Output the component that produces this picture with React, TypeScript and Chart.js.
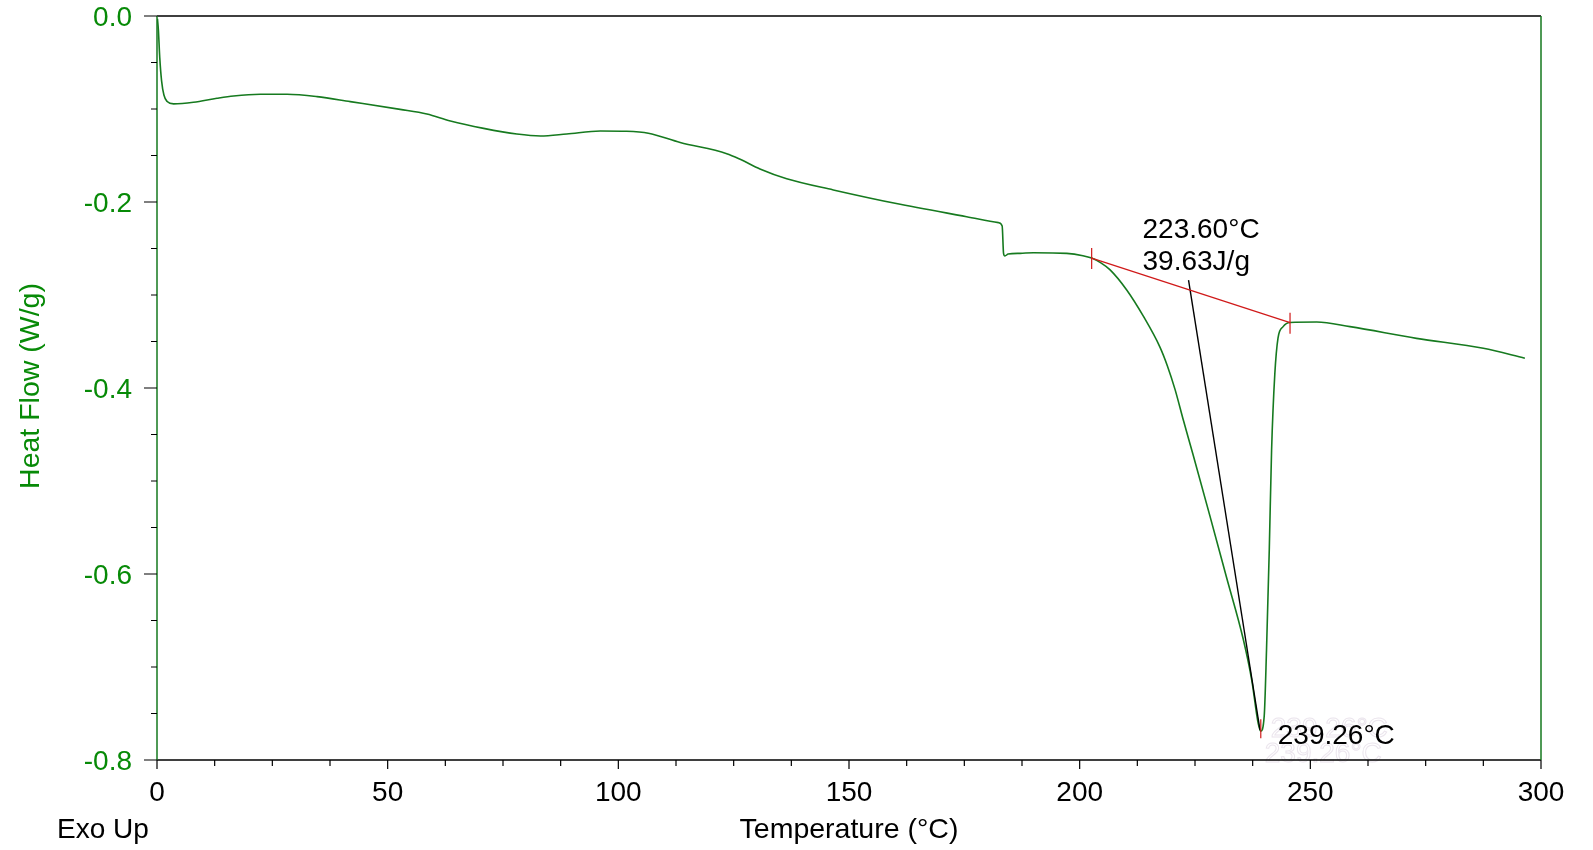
import React, { useEffect, useRef } from 'react';
import { Chart, registerables } from 'chart.js';

Chart.register(...registerables);

// ---- Data ----
const temperature = [
  0.1, 0.3, 0.6, 1.0, 1.5, 2.2, 3.6, 7.9, 13.0, 16.6, 22.4, 28.2, 34.7, 41.9, 52.7, 58.5, 63.6, 70.8, 78.0, 83.1,
  88.8, 96.1, 101.8, 106.5, 113.4, 123.5, 126.4, 130.7, 136.5, 146.6, 161.1, 175.5, 182.4, 183.2, 183.5, 183.8,
  184.5, 187.1, 190.0, 197.2, 200.7, 202.6, 204.6, 206.6, 210.2, 213.8, 217.4, 219.0, 220.7, 222.5, 224.6, 228.2,
  231.8, 235.5, 237.3, 238.7, 239.26, 240.0, 240.5, 241.1, 241.6, 242.3, 243.0, 244.1, 245.6, 251.4, 258.6, 273.0,
  287.5, 296.5,
];
const heatFlow = [
  -0.003, -0.015, -0.045, -0.07, -0.085, -0.092, -0.0945, -0.0928, -0.0885, -0.086, -0.0842, -0.0842, -0.0867,
  -0.0921, -0.1004, -0.1054, -0.1129, -0.1208, -0.1269, -0.129, -0.1269, -0.1237, -0.124, -0.126, -0.136, -0.148,
  -0.154, -0.1645, -0.175, -0.187, -0.2025, -0.2158, -0.2222, -0.2258, -0.2552, -0.258, -0.256, -0.2552, -0.2545,
  -0.2552, -0.2577, -0.2603, -0.2655, -0.273, -0.2946, -0.3228, -0.356, -0.376, -0.402, -0.435, -0.472, -0.537,
  -0.603, -0.671, -0.714, -0.7606, -0.769, -0.753, -0.682, -0.574, -0.467, -0.385, -0.346, -0.334, -0.3295,
  -0.329, -0.334, -0.3466, -0.3573, -0.368,
];
const baselineTemps = [202.6, 245.6];
const baselineFlow = [-0.2603, -0.3298];
const pointerTemps = [223.6, 239.1];
const pointerFlow = [-0.284, -0.768];
const peakTemp = 239.26;
const peakFlow = -0.769;
const onsetTemp = 223.6;
const enthalpy = 39.63;
const xMajorStep = 50;
const xMinorStep = 12.5;
const yMajorStep = 0.2;
const yMinorStep = 0.05;

const FONT = "'Liberation Sans', Arial, sans-serif";
const CURVE = '#167a1f';
const GREEN_TEXT = '#078a07';

export default function App() {
  const ref = useRef<HTMLCanvasElement>(null);

  useEffect(() => {
    document.body.style.margin = '0';
    const toPts = (xs: number[], ys: number[]) => xs.map((x, i) => ({ x, y: ys[i] }));

    const decor = {
      id: 'decor',
      beforeDatasetsDraw(chart: any) {
        const ctx = chart.ctx;
        const xs = chart.scales.x;
        const px = xs.getPixelForValue(peakTemp);
        ctx.save();
        ctx.font = `28px ${FONT}`;
        ctx.strokeStyle = '#ebe5ed';
        ctx.lineWidth = 1;
        ctx.textBaseline = 'alphabetic';
        ctx.strokeText(`${peakTemp.toFixed(2)}°C`, px + 4, 762);
        ctx.strokeText(`${peakTemp.toFixed(2)}°C`, px + 10, 737);
        ctx.restore();
      },
      afterDraw(chart: any) {
        const ctx = chart.ctx;
        const { left, right, top, bottom } = chart.chartArea;
        const xs = chart.scales.x;
        const ys = chart.scales.y;
        ctx.save();
        ctx.lineWidth = 1.5;
        // frame
        ctx.strokeStyle = '#000';
        ctx.beginPath();
        ctx.moveTo(left, top); ctx.lineTo(right, top);
        ctx.moveTo(left, bottom); ctx.lineTo(right, bottom);
        ctx.stroke();
        ctx.strokeStyle = CURVE;
        ctx.beginPath();
        ctx.moveTo(left, top); ctx.lineTo(left, bottom);
        ctx.moveTo(right, top); ctx.lineTo(right, bottom);
        ctx.stroke();
        // ticks
        ctx.strokeStyle = '#000';
        ctx.lineWidth = 1.2;
        ctx.beginPath();
        for (let v = 0; v <= 300 + 1e-6; v += xMinorStep) {
          const p = xs.getPixelForValue(v);
          const major = Math.abs(v / xMajorStep - Math.round(v / xMajorStep)) < 1e-6;
          ctx.moveTo(p, bottom);
          ctx.lineTo(p, bottom + (major ? 9 : 6));
        }
        for (let v = 0; v >= -0.8 - 1e-6; v -= yMinorStep) {
          const p = ys.getPixelForValue(v);
          const major = Math.abs(v / yMajorStep - Math.round(v / yMajorStep)) < 1e-6;
          ctx.moveTo(left, p);
          ctx.lineTo(left - (major ? 13 : 6), p);
        }
        ctx.stroke();
        // red markers
        ctx.strokeStyle = '#d01a1a';
        ctx.lineWidth = 1.2;
        ctx.beginPath();
        for (let i = 0; i < baselineTemps.length; i++) {
          const bx = xs.getPixelForValue(baselineTemps[i]);
          const by = ys.getPixelForValue(baselineFlow[i]);
          ctx.moveTo(bx, by - 10); ctx.lineTo(bx, by + 11);
        }
        const pkx = xs.getPixelForValue(peakTemp);
        const pky = ys.getPixelForValue(peakFlow);
        ctx.moveTo(pkx, pky - 12); ctx.lineTo(pkx, pky + 7);
        ctx.stroke();
        // titles
        ctx.font = `28px ${FONT}`;
        ctx.fillStyle = '#000';
        ctx.textBaseline = 'alphabetic';
        ctx.textAlign = 'left';
        ctx.fillText('Exo Up', 57, 838);
        ctx.textAlign = 'center';
        ctx.font = `28.5px ${FONT}`;
        ctx.fillText('Temperature (°C)', (left + right) / 2, 838);
        ctx.save();
        ctx.translate(31, 386);
        ctx.rotate(-Math.PI / 2);
        ctx.fillStyle = GREEN_TEXT;
        ctx.textBaseline = 'middle';
        ctx.fillText('Heat Flow (W/g)', 0, 0);
        ctx.restore();
        // annotations
        ctx.font = `28px ${FONT}`;
        ctx.textAlign = 'left';
        ctx.fillStyle = '#000';
        const ox = xs.getPixelForValue(onsetTemp);
        ctx.fillText(`${onsetTemp.toFixed(2)}°C`, ox - 46, 238);
        ctx.fillText(`${enthalpy.toFixed(2)}J/g`, ox - 46, 270);
        ctx.fillText(`${peakTemp.toFixed(2)}°C`, pkx + 17, 744);
        ctx.restore();
      },
    };

    const chart = new Chart(ref.current!, {
      type: 'line',
      data: {
        datasets: [
          {
            data: toPts(baselineTemps, baselineFlow),
            borderColor: '#d01a1a',
            borderWidth: 1.3,
            pointRadius: 0,
            order: 1,
          },
          {
            data: toPts(pointerTemps, pointerFlow),
            borderColor: '#000',
            borderWidth: 1.4,
            pointRadius: 0,
            order: 2,
          },
          {
            data: toPts(temperature, heatFlow),
            borderColor: CURVE,
            borderWidth: 1.6,
            pointRadius: 0,
            cubicInterpolationMode: 'monotone',
            order: 3,
          },
        ],
      },
      options: {
        animation: false,
        responsive: false,
        devicePixelRatio: 1,
        layout: { padding: { left: 0, top: 16, right: 52, bottom: 0 } },
        plugins: { legend: { display: false }, tooltip: { enabled: false } },
        scales: {
          x: {
            type: 'linear',
            min: 0,
            max: 300,
            grid: { display: false },
            border: { display: false },
            ticks: {
              stepSize: xMajorStep,
              padding: 8,
              color: '#000',
              font: { family: FONT, size: 28 },
              maxRotation: 0,
            },
            afterFit(scale: any) {
              scale.height = 90;
              scale.paddingLeft = 0;
              scale.paddingRight = 0;
            },
          },
          y: {
            type: 'linear',
            min: -0.8,
            max: 0,
            grid: { display: false },
            border: { display: false },
            ticks: {
              stepSize: yMajorStep,
              padding: 17,
              labelOffset: 2,
              color: GREEN_TEXT,
              font: { family: FONT, size: 28 },
              callback: (v: any) => {
                const n = Number(v);
                return Math.abs(n) < 1e-9 ? '0.0' : n.toFixed(1);
              },
            },
            afterFit(scale: any) {
              scale.width = 157;
              scale.paddingTop = 0;
              scale.paddingBottom = 0;
            },
          },
        },
      },
      plugins: [decor],
    } as any);
    return () => chart.destroy();
  }, []);

  return (
    <div style={{ width: 1593, height: 850, background: '#fff' }}>
      <canvas ref={ref} width={1593} height={850} style={{ display: 'block' }} />
    </div>
  );
}
